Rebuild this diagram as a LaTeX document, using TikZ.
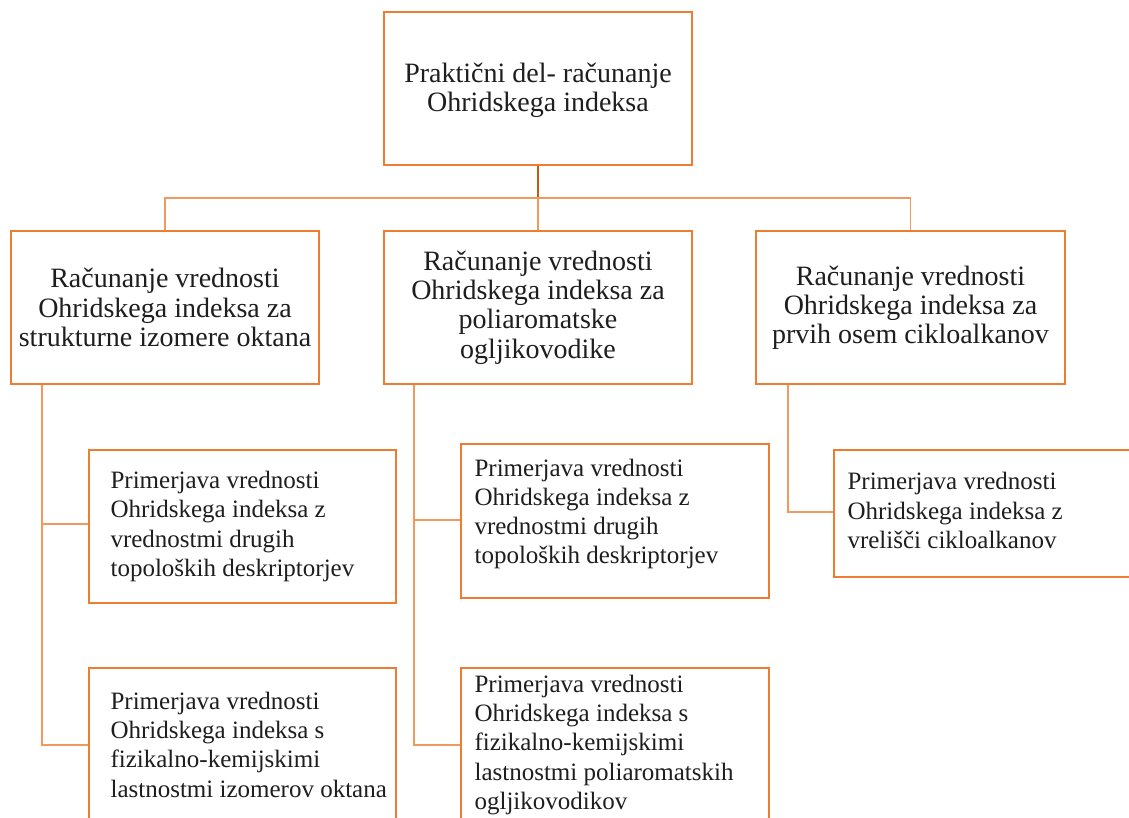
\documentclass[tikz,border=0pt]{standalone}
\usepackage{fontspec}
\setmainfont{Liberation Serif}
\definecolor{boxor}{HTML}{ED7D31}
\definecolor{lineor}{HTML}{EE9A60}
\definecolor{darkor}{HTML}{C55A11}
\definecolor{txt}{HTML}{1E1E1E}
\begin{document}
\begin{tikzpicture}[x=1pt,y=-1pt,
  box/.style={draw=boxor,line width=1.3pt,fill=white,inner sep=0pt,minimum width=308pt,minimum height=153pt},
  bigtxt/.style={text=txt,align=center,inner sep=0pt,font=\fontsize{28}{29.2}\selectfont},
  smalltxt/.style={text=txt,align=left,inner sep=0pt,anchor=west,font=\fontsize{25}{29.3}\selectfont},
  conn/.style={draw=lineor,line width=1.2pt}]
\useasboundingbox (0,0) rectangle (1129,818);
\clip (0,0) rectangle (1129,818);
\fill[white] (0,0) rectangle (1129,818);
% connectors
\coordinate (hub) at (538,198);
\coordinate (ja) at (42,524);
\coordinate (jb) at (42,745);
\coordinate (jc) at (414,520);
\coordinate (jd) at (414,745);
\coordinate (jr) at (788,512);
% boxes
\node[box] (top) at (538,88.5) {};
\node[box] (A) at (165,307.5) {};
\node[box] (B) at (538,307.5) {};
\node[box,minimum width=309pt] (C) at (910.5,307.5) {};
\node[box,minimum width=307pt] (L1) at (242.5,526.5) {};
\node[box,minimum width=307pt] (L2) at (242.5,744.5) {};
\node[box,minimum height=154pt] (M1) at (615,521) {};
\node[box,minimum height=154pt] (M2) at (615,745) {};
\node[box,minimum width=306pt,minimum height=127pt] (R1) at (987,513.5) {};
\draw[draw=darkor,line width=2pt] (top.south) -- (hub);
\draw[conn] (A.north) -- (A.north |- hub) -- (C.north |- hub) -- (C.north);
\draw[conn] (hub) -- (B.north);
\draw[conn] (A.south -| ja) -- (jb) -- (L2.west |- jb);
\draw[conn] (ja) -- (L1.west |- ja);
\draw[conn] (B.south -| jc) -- (jd) -- (M2.west |- jd);
\draw[conn] (jc) -- (M1.west |- jc);
\draw[conn] (C.south -| jr) -- (jr) -- (R1.west |- jr);
% texts
\node[bigtxt] (ttop) at ([yshift=-2pt]top.center) {Praktični del- računanje\\Ohridskega indeksa};
\node[bigtxt] (tA) at (A.center) {Računanje vrednosti\\Ohridskega indeksa za\\strukturne izomere oktana};
\node[bigtxt] (tB) at (B.center) {Računanje vrednosti\\Ohridskega indeksa za\\poliaromatske\\ogljikovodike};
\node[bigtxt] (tC) at (C.center) {Računanje vrednosti\\Ohridskega indeksa za\\prvih osem cikloalkanov};
\node[smalltxt] (tL1) at ([xshift=22pt]L1.west) {Primerjava vrednosti\\Ohridskega indeksa z\\vrednostmi drugih\\topoloških deskriptorjev};
\node[smalltxt] (tL2) at ([xshift=22pt]L2.west) {Primerjava vrednosti\\Ohridskega indeksa s\\fizikalno-kemijskimi\\lastnostmi izomerov oktana};
\node[smalltxt] (tM1) at ([xshift=14pt,yshift=7pt]M1.west) {Primerjava vrednosti\\Ohridskega indeksa z\\vrednostmi drugih\\topoloških deskriptorjev};
\node[smalltxt] (tM2) at ([xshift=14pt]M2.west) {Primerjava vrednosti\\Ohridskega indeksa s\\fizikalno-kemijskimi\\lastnostmi poliaromatskih\\ogljikovodikov};
\node[smalltxt] (tR1) at ([xshift=14pt,yshift=3pt]R1.west) {Primerjava vrednosti\\Ohridskega indeksa z\\vrelišči cikloalkanov};
\end{tikzpicture}
\end{document}
